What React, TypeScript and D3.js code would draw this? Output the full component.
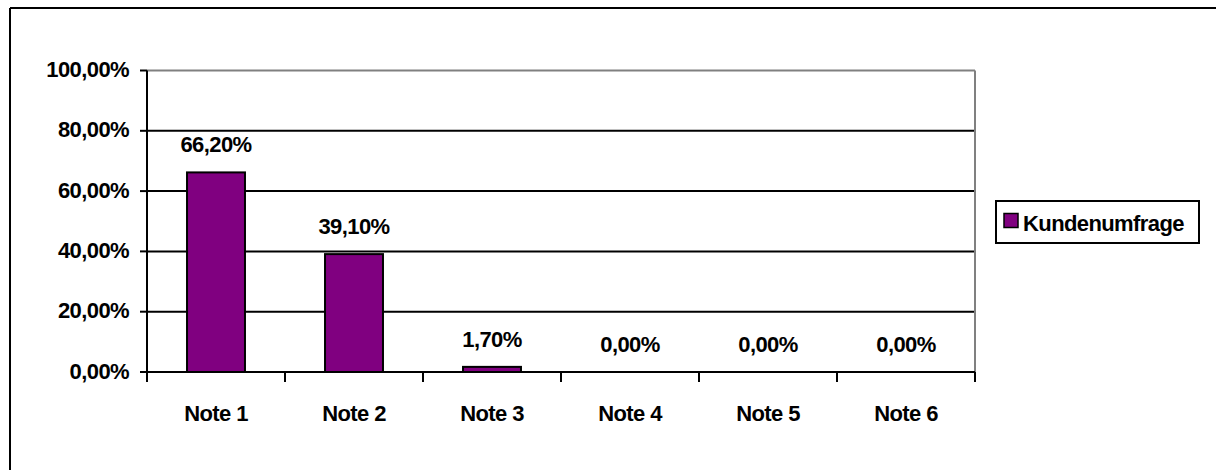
import React from "react";
import * as d3 from "d3";

const categories = ["Note 1", "Note 2", "Note 3", "Note 4", "Note 5", "Note 6"];
const values = [66.2, 39.1, 1.7, 0, 0, 0];
const yTicks = [0, 20, 40, 60, 80, 100];
const seriesName = "Kundenumfrage";

const W = 1216;
const H = 470;
const plot = { left: 147, right: 975, top: 70.5, bottom: 372 };
const FONT = "'Liberation Sans', Arial, sans-serif";
const FS = 22;
const LS = -0.6;
const fmt = (v: number) => v.toFixed(2).replace(".", ",") + "%";

export default function App() {
  const x = d3
    .scaleBand<string>()
    .domain(categories)
    .range([plot.left, plot.right])
    .paddingInner(0.58)
    .paddingOuter(0.29);
  const y = d3.scaleLinear().domain([0, 100]).range([plot.bottom, plot.top]);
  const step = x.step();

  const txt = { fontFamily: FONT, fontWeight: "bold" as const, fontSize: FS, letterSpacing: LS, fill: "#000" };

  return (
    <div style={{ position: "absolute", left: 0, top: 0 }}>
      <svg width={W} height={H} style={{ display: "block" }}>
        <rect width={W} height={H} fill="#fff" />
        {/* outer frame (top & left visible) */}
        <line x1={10} y1={8} x2={W} y2={8} stroke="#000" strokeWidth={2} />
        <line x1={10} y1={8} x2={10} y2={H} stroke="#000" strokeWidth={2} />

        {/* gridlines */}
        {yTicks
          .filter((t) => t > 0 && t < 100)
          .map((t) => (
            <line key={t} x1={plot.left} x2={plot.right} y1={y(t)} y2={y(t)} stroke="#000" strokeWidth={2} />
          ))}
        {/* top & right border gray */}
        <line x1={plot.left} x2={plot.right} y1={y(100)} y2={y(100)} stroke="#808080" strokeWidth={2} />
        <line x1={plot.right} x2={plot.right} y1={y(100)} y2={plot.bottom} stroke="#808080" strokeWidth={2} />

        {/* bars */}
        {categories.map((c, i) => (
          <g key={c}>
            {values[i] > 0 && (
              <rect
                x={x(c)!}
                y={y(values[i])}
                width={x.bandwidth()}
                height={plot.bottom - y(values[i])}
                fill="#800080"
                stroke="#000"
                strokeWidth={2}
              />
            )}
            <text x={x(c)! + x.bandwidth() / 2} y={y(values[i]) - 20} textAnchor="middle" {...txt}>
              {fmt(values[i])}
            </text>
          </g>
        ))}

        {/* y axis */}
        <line x1={plot.left} x2={plot.left} y1={y(100)} y2={plot.bottom} stroke="#000" strokeWidth={2} />
        {yTicks.map((t) => (
          <g key={t}>
            <line x1={plot.left - 7} x2={plot.left} y1={y(t)} y2={y(t)} stroke="#000" strokeWidth={2} />
            <text x={129} y={y(t) + 6.5} textAnchor="end" {...txt}>
              {fmt(t)}
            </text>
          </g>
        ))}

        {/* x axis */}
        <line x1={plot.left} x2={plot.right} y1={plot.bottom} y2={plot.bottom} stroke="#000" strokeWidth={2} />
        {d3.range(categories.length + 1).map((i) => (
          <line
            key={i}
            x1={plot.left + i * step}
            x2={plot.left + i * step}
            y1={plot.bottom}
            y2={plot.bottom + 10}
            stroke="#000"
            strokeWidth={2}
          />
        ))}
        {categories.map((c) => (
          <text key={c} x={x(c)! + x.bandwidth() / 2} y={421} textAnchor="middle" {...txt}>
            {c}
          </text>
        ))}

        {/* legend */}
        <rect x={996} y={201} width={203} height={42} fill="#fff" stroke="#000" strokeWidth={2} />
        <rect x={1004} y={213.5} width={14} height={14} fill="#800080" stroke="#000" strokeWidth={1.5} />
        <text x={1023} y={231} {...txt}>
          {seriesName}
        </text>
      </svg>
    </div>
  );
}
